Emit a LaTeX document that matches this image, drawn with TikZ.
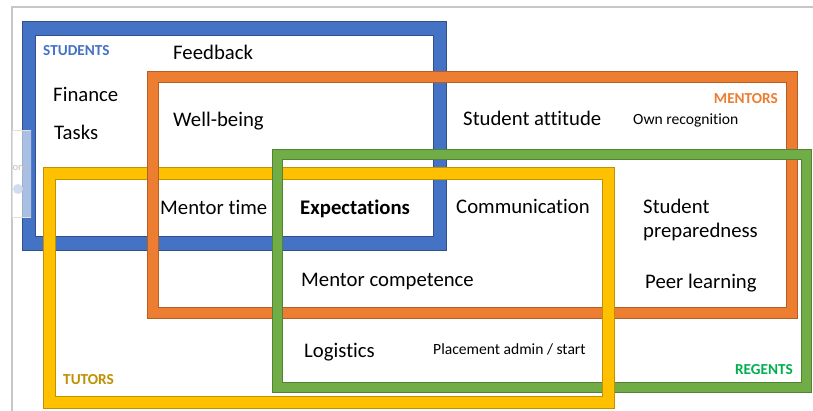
\documentclass[tikz,border=0pt]{standalone}
\usepackage{fontspec}
\setmainfont{Carlito}[Ligatures=NoCommon]
\usepackage{xcolor}
\usetikzlibrary{positioning}

\definecolor{stublue}{HTML}{4472C4}
\definecolor{menorange}{HTML}{ED7D31}
\definecolor{tutyellow}{HTML}{FFC000}
\definecolor{regreen}{HTML}{70AD47}
\definecolor{tutlabel}{HTML}{BF9000}
\definecolor{reglabel}{HTML}{00B050}

\begin{document}
\begin{tikzpicture}[x=0.3mm,y=-0.3mm]
\tikzstyle{every node}+=[inner sep=0pt]
\tikzstyle{item}=[anchor=base west,font=\fontsize{17.7}{20}\selectfont]
\tikzstyle{minor}=[anchor=base west,font=\fontsize{13.3}{15}\selectfont]
\tikzstyle{group}=[font=\fontsize{13}{15}\selectfont\bfseries]
\tikzstyle{band}=[even odd rule,line width=0.5pt]

\useasboundingbox (0,0) rectangle (813,411);
\fill [white] (0,0) rectangle (813,411);

% window edge
\draw [black!22, line width=1.7pt] (12,411) -- (12,7) -- (813,7);

% the four frames: blue at the bottom, green on top
\path [band, fill=stublue, draw=stublue!70!black] (22,21) rectangle (446,250) (35,35) rectangle (433,236);
\path [band, fill=tutyellow, draw=tutyellow!75!black] (43,167) rectangle (614,408) (55,179) rectangle (602,396);
\path [band, fill=menorange, draw=menorange!75!black] (147,71) rectangle (797,318) (158,82) rectangle (786,307);
\path [band, fill=regreen, draw=regreen!75!black] (272,149) rectangle (811,392) (282,159) rectangle (801,382);
% yellow passes over orange and green at its lower right
\begin{scope}
\clip (590,290) rectangle (620,411);
\path [band, fill=tutyellow, draw=tutyellow!75!black] (43,167) rectangle (614,408) (55,179) rectangle (602,396);
\end{scope}

% side panel of the window
\begin{scope}
\clip (12,130) rectangle (31,217);
\draw [black!12, fill=white, fill opacity=0.55] (12,130) rectangle (31,217);
\node (ons) [anchor=base east, text=black!25, font=\fontsize{9}{10}\selectfont] at (28,170) {ons};
\fill [stublue!25] (18,189) circle (5);
\end{scope}

% group labels
\node (students) [group, anchor=base west, text=stublue] at (43,55) {STUDENTS};
\node (mentors) [group, anchor=base east, text=menorange] at (778,103) {MENTORS};
\node (tutors) [group, anchor=base west, text=tutlabel] at (63,384) {TUTORS};
\node (regents) [group, anchor=base east, text=reglabel] at (793,374) {REGENTS};

% items
\node (feedback) [item] at (173,59) {Feedback};
\node (finance) [item] at (53,101) {Finance};
\node (tasks) [item] at (54,139) {Tasks};
\node (wellbeing) [item] at (173,126) {Well-being};
\node (attitude) [item] at (463,125) {Student attitude};
\node (recognition) [minor] at (633,124) {Own recognition};
\node (mtime) [item] at (160,214) {Mentor time};
\node (expect) [item] at (300,214) {\bfseries Expectations};
\node (comms) [item] at (456,213) {Communication};
\node (student) [item] at (643,213) {Student};
\node (prepared) [item] at (643,237) {preparedness};
\node (competence) [item] at (301,286) {Mentor competence};
\node (peer) [item] at (645,288) {Peer learning};
\node (logistics) [item] at (304,357) {Logistics};
\node (placement) [minor] at (433,354) {Placement admin / start};
\end{tikzpicture}
\end{document}
